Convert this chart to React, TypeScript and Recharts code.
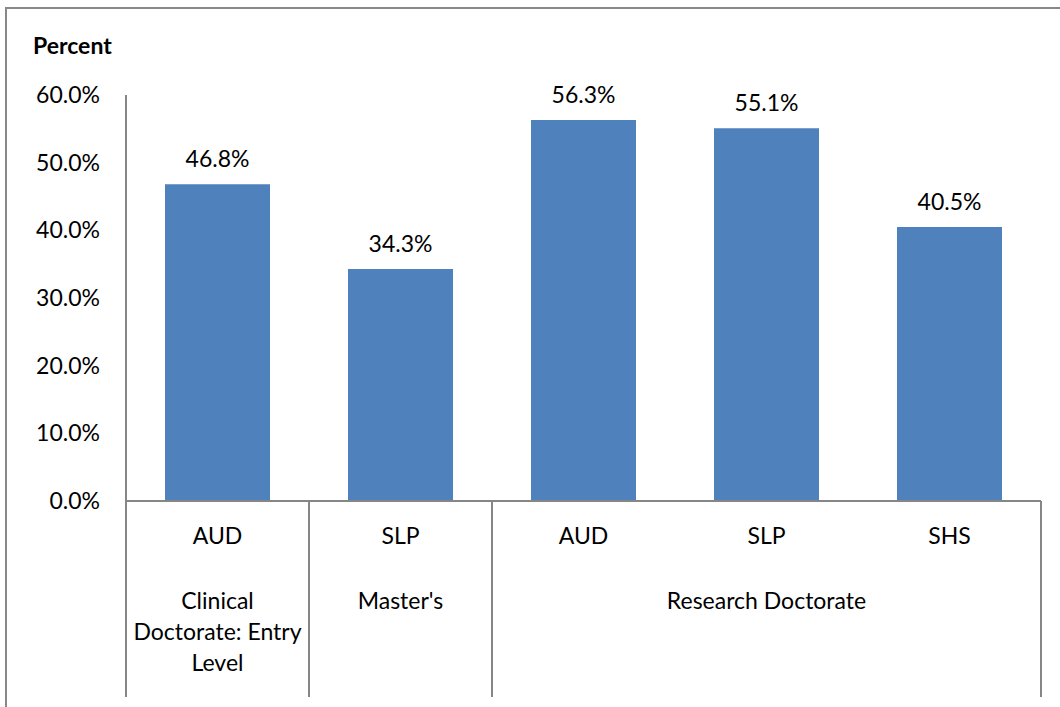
import { Bar, BarChart, LabelList, XAxis, YAxis } from "recharts"

// Bars, one per discipline
const categories = ["AUD", "SLP", "AUD", "SLP", "SHS"]
const values = [46.8, 34.3, 56.3, 55.1, 40.5]

// Degree level groups under the discipline labels
const groupLines = [["Clinical", "Doctorate: Entry", "Level"], ["Master's"], ["Research Doctorate"]]
const groupOf = [0, 1, 2, 2, 2]

const yTicks = [0, 10, 20, 30, 40, 50, 60]

const data = categories.map((name, i) => ({ name, value: values[i] }))

const W = 1060
const H = 707
const PLOT_LEFT = 126
const PLOT_RIGHT = 1041
const BAND = (PLOT_RIGHT - PLOT_LEFT) / categories.length
const FONT = "Lato, 'Open Sans', sans-serif"
const FONT_SIZE = 23
const AXIS = "#868686"

function CategoryTick(props: any) {
  const { x, y, payload } = props
  const i = payload.index
  const g = groupOf[i]
  const first = i === 0 || groupOf[i - 1] !== g
  const span = groupOf.filter((v) => v === g).length
  const lineBottom = 697
  return (
    <g>
      <text x={x} y={y + 35} dy="0.35em" textAnchor="middle" fill="#000" fontSize={FONT_SIZE} fontFamily={FONT}>
        {payload.value}
      </text>
      {first && (
        <line x1={x - BAND / 2} x2={x - BAND / 2} y1={y} y2={lineBottom} stroke={AXIS} strokeWidth={2} />
      )}
      {first &&
        groupLines[g].map((line, k) => (
          <text
            key={k}
            x={x + ((span - 1) * BAND) / 2}
            y={y + 100 + k * 31}
            dy="0.35em"
            textAnchor="middle"
            fill="#000"
            fontSize={FONT_SIZE}
            fontFamily={FONT}
          >
            {line}
          </text>
        ))}
      {i === categories.length - 1 && (
        <line x1={x + BAND / 2} x2={x + BAND / 2} y1={y} y2={lineBottom} stroke={AXIS} strokeWidth={2} />
      )}
    </g>
  )
}

export default function App() {
  return (
    <div
      style={{
        position: "absolute",
        left: 0,
        top: 0,
        width: W,
        height: H,
        overflow: "hidden",
        background: "#fff",
        fontFamily: FONT,
      }}
    >
      <div
        style={{
          position: "absolute",
          left: 5,
          top: 7,
          width: 1200,
          height: 900,
          border: "2px solid #888",
          boxSizing: "border-box",
        }}
      />
      <div
        style={{
          position: "absolute",
          left: 33,
          top: 31,
          fontSize: FONT_SIZE,
          fontWeight: "bold",
          color: "#000",
          lineHeight: "28px",
        }}
      >
        Percent
      </div>
      <BarChart
        width={W}
        height={H}
        data={data}
        margin={{ top: 95, right: W - PLOT_RIGHT, bottom: 0, left: 0 }}
        barSize={105}
        style={{ position: "absolute", left: 0, top: 0 }}
      >
        <XAxis
          dataKey="name"
          height={206}
          axisLine={{ stroke: AXIS, strokeWidth: 2 }}
          tickLine={false}
          tickSize={0}
          tickMargin={0}
          interval={0}
          tick={<CategoryTick />}
        />
        <YAxis
          width={PLOT_LEFT}
          domain={[0, 60]}
          ticks={yTicks}
          axisLine={{ stroke: AXIS, strokeWidth: 2 }}
          tickLine={false}
          tickSize={0}
          tickMargin={26}
          tick={{ fill: "#000", fontSize: FONT_SIZE, fontFamily: FONT }}
          tickFormatter={(v: number) => `${v.toFixed(1)}%`}
        />
        <Bar dataKey="value" fill="#4F81BD" isAnimationActive={false}>
          <LabelList
            dataKey="value"
            position="top"
            offset={17}
            fill="#000"
            fontSize={FONT_SIZE}
            fontFamily={FONT}
            formatter={(v: any) => `${Number(v).toFixed(1)}%`}
          />
        </Bar>
      </BarChart>
    </div>
  )
}
